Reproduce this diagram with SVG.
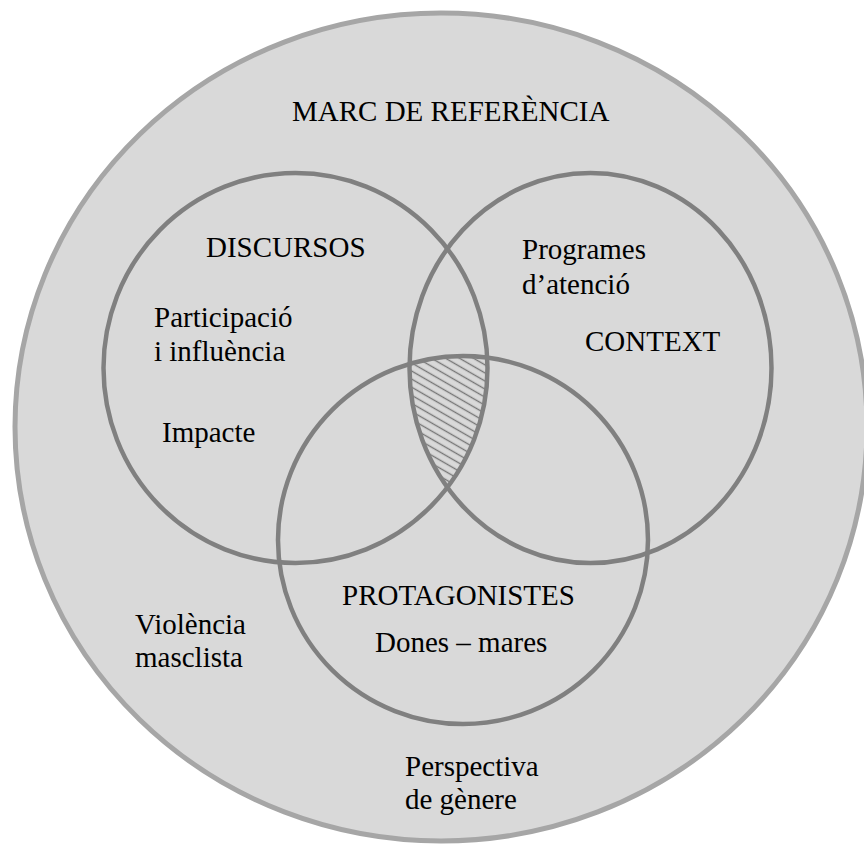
<svg xmlns="http://www.w3.org/2000/svg" width="864" height="845" viewBox="0 0 864 845">
<style>
  .t { font-family: "Liberation Serif", "Times New Roman", serif; font-size: 29px; fill: #000; }
  .inner { fill: none; stroke: #808080; stroke-width: 4.5; }
  .outer { fill: #d9d9d9; stroke: #a6a6a6; stroke-width: 5; }
</style>
<defs>
  <pattern id="hatch" patternUnits="userSpaceOnUse" width="20" height="7" patternTransform="rotate(30)">
    <line x1="-2" y1="3.5" x2="22" y2="3.5" stroke="#767676" stroke-width="1.4"/>
  </pattern>
  <clipPath id="clipD"><ellipse cx="295.5" cy="368" rx="192" ry="195"/></clipPath>
  <clipPath id="clipP"><ellipse cx="463" cy="540" rx="185" ry="184"/></clipPath>
</defs>
<rect width="864" height="845" fill="#ffffff"/>
<g id="marc-de-referencia">
  <ellipse class="outer" cx="441" cy="427" rx="426" ry="414"/>
  <text class="t" x="292" y="121">MARC DE REFERÈNCIA</text>
  <text class="t" x="135" y="634">Violència</text>
  <text class="t" x="135" y="667">masclista</text>
  <text class="t" x="405" y="776">Perspectiva</text>
  <text class="t" x="405" y="809">de gènere</text>
</g>
<g id="interseccio">
  <g clip-path="url(#clipP)">
    <ellipse cx="590.5" cy="368" rx="181" ry="195" fill="url(#hatch)" clip-path="url(#clipD)"/>
  </g>
</g>
<g id="discursos">
  <ellipse class="inner" cx="295.5" cy="368" rx="192" ry="195"/>
  <text class="t" x="206" y="257">DISCURSOS</text>
  <text class="t" x="154" y="327">Participació</text>
  <text class="t" x="154" y="361">i influència</text>
  <text class="t" x="162" y="442">Impacte</text>
</g>
<g id="context">
  <ellipse class="inner" cx="590.5" cy="368" rx="181" ry="195"/>
  <text class="t" x="522" y="259">Programes</text>
  <text class="t" x="522" y="294">d’atenció</text>
  <text class="t" x="585" y="351">CONTEXT</text>
</g>
<g id="protagonistes">
  <ellipse class="inner" cx="463" cy="540" rx="185" ry="184"/>
  <text class="t" x="342" y="605">PROTAGONISTES</text>
  <text class="t" x="375" y="652">Dones – mares</text>
</g>
</svg>
